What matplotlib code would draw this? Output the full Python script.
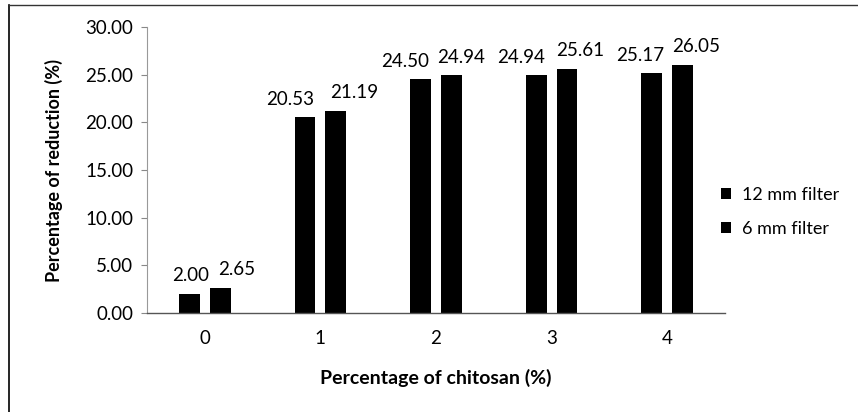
import matplotlib.pyplot as plt
import numpy as np
from matplotlib.lines import Line2D

plt.rcParams['font.family'] = ['Lato', 'DejaVu Sans']

# Chitosan dose (%) and reduction (%) for both filter sizes
categories = ['0', '1', '2', '3', '4']
filter_12mm = [2.00, 20.53, 24.50, 24.94, 25.17]
filter_6mm = [2.65, 21.19, 24.94, 25.61, 26.05]
series_names = ['12 mm filter', '6 mm filter']

# horizontal nudges (px) of the value labels so neighbours don't collide
nudge_12mm = [1, -15, -15, -15, -12]
nudge_6mm = [16, 18, 10, 13, 13]

fig = plt.figure(figsize=(8.58, 4.12), dpi=100)
ax = fig.add_axes([147 / 858, (412 - 313) / 412, (725 - 147) / 858, (313 - 27) / 412])

x = np.arange(len(categories))
w = 0.18
off = 0.134
b1 = ax.bar(x - off, filter_12mm, w, color='black', label=series_names[0])
b2 = ax.bar(x + off, filter_6mm, w, color='black', label=series_names[1])

for bars, vals, nudges in [(b1, filter_12mm, nudge_12mm), (b2, filter_6mm, nudge_6mm)]:
    for r, v, dx in zip(bars, vals, nudges):
        ax.annotate(f'{v:.2f}', (r.get_x() + r.get_width() / 2, v),
                    xytext=(dx, 18), textcoords='offset pixels',
                    ha='center', va='center', fontsize=13.5)

ax.set_xlim(-0.5, 4.5)
ax.set_ylim(0, 30)
ax.set_yticks(np.arange(0, 31, 5))
ax.yaxis.set_major_formatter(plt.FormatStrFormatter('%.2f'))
ax.set_xticks(x)
ax.set_xticklabels(categories)
ax.tick_params(axis='y', direction='out', length=4, color='#888888', labelsize=13.5, pad=6)
ax.tick_params(axis='x', length=0, labelsize=13.5, pad=12)

for s in ['top', 'right']:
    ax.spines[s].set_visible(False)
ax.spines['left'].set_color('#999999')
ax.spines['left'].set_linewidth(0.8)
ax.spines['bottom'].set_color('#555555')
ax.spines['bottom'].set_linewidth(1.0)

ax.set_xlabel('Percentage of chitosan (%)', fontsize=14, fontweight='bold', labelpad=16)
ax.set_ylabel('Percentage of reduction (%)', fontsize=13, fontweight='bold', labelpad=16)

fig.legend(handles=[b1, b2], labels=series_names, loc='center left',
           bbox_to_anchor=(705 / 858, 1 - 212 / 412), frameon=False,
           fontsize=13, handlelength=0.55, handleheight=0.55, handletextpad=0.6,
           labelspacing=1.0)

# outer frame (top and left edges)
fig.add_artist(Line2D([9 / 858, 9 / 858], [0, 1 - 5 / 412], transform=fig.transFigure,
                      color='black', lw=1.2))
fig.add_artist(Line2D([9 / 858, 1], [1 - 5 / 412, 1 - 5 / 412], transform=fig.transFigure,
                      color='#333333', lw=1.0))

fig.savefig('out.png', dpi=100)
